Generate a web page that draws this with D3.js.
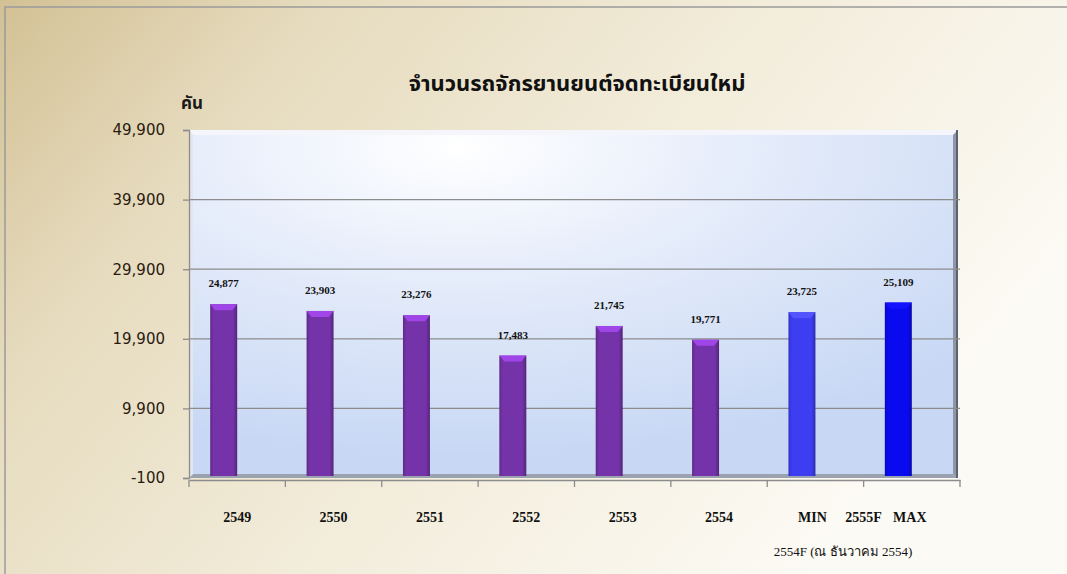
<!DOCTYPE html>
<html>
<head>
<meta charset="utf-8">
<script src="https://cdn.jsdelivr.net/npm/d3@7"></script>
<style>
  html, body { margin: 0; padding: 0; background: #fff; }
  svg { display: block; }
</style>
</head>
<body>
<div id="chart"></div>
<script>
// Chart data
const categories = ['2549', '2550', '2551', '2552', '2553', '2554', 'MIN', 'MAX'];
const values = [24877, 23903, 23276, 17483, 21745, 19771, 23725, 25109];
const barColors = ['#7433a8', '#7433a8', '#7433a8', '#7433a8', '#7433a8', '#7433a8', '#3d3df2', '#0a0af0'];
const yTicks = [-100, 9900, 19900, 29900, 39900, 49900];
const titleText = 'จำนวนรถจักรยานยนต์จดทะเบียนใหม่';
const unitText = 'คัน';
const groupLabel = '2555F';
const noteText = '2554F (ณ ธันวาคม 2554)';

const width = 1067, height = 574;
const plot = { left: 189, right: 960, top: 130, bottom: 478 };

const svg = d3.select('#chart').append('svg')
    .attr('width', width)
    .attr('height', height);

const defs = svg.append('defs');

// page background - tan on the left fading to off-white
const bg = defs.append('linearGradient').attr('id', 'bg')
    .attr('x1', 0).attr('y1', 0).attr('x2', 1).attr('y2', 0.45);
bg.append('stop').attr('offset', 0).attr('stop-color', '#d3c195');
bg.append('stop').attr('offset', 0.25).attr('stop-color', '#e6dbbe');
bg.append('stop').attr('offset', 0.6).attr('stop-color', '#f2ecda');
bg.append('stop').attr('offset', 1).attr('stop-color', '#fcfaf4');

// plot wall - white glare at top fading to pale blue
const wall = defs.append('radialGradient').attr('id', 'wall')
    .attr('cx', 0.35).attr('cy', 0.05).attr('r', 0.9);
wall.append('stop').attr('offset', 0).attr('stop-color', '#ffffff');
wall.append('stop').attr('offset', 0.35).attr('stop-color', '#e9effb');
wall.append('stop').attr('offset', 1).attr('stop-color', '#c7d7f4');

// bar shading
barColors.forEach((c, i) => {
    const g = defs.append('linearGradient').attr('id', 'bar' + i)
        .attr('x1', 0).attr('x2', 1).attr('y1', 0).attr('y2', 0);
    const base = d3.color(c);
    g.append('stop').attr('offset', 0).attr('stop-color', base.darker(0.6));
    g.append('stop').attr('offset', 0.12).attr('stop-color', base);
    g.append('stop').attr('offset', 0.85).attr('stop-color', base);
    g.append('stop').attr('offset', 1).attr('stop-color', base.darker(0.9));
});

// background + outer border
svg.append('rect').attr('width', width).attr('height', height).attr('fill', 'url(#bg)');
svg.append('rect')
    .attr('x', 5).attr('y', 7)
    .attr('width', width + 10).attr('height', height + 10)
    .attr('fill', 'none')
    .attr('stroke', '#9a9a9a')
    .attr('stroke-width', 1.5);

const x = d3.scaleBand()
    .domain(categories)
    .range([plot.left, plot.right])
    .paddingInner(0).paddingOuter(0);

const y = d3.scaleLinear()
    .domain([-100, 49900])
    .range([plot.bottom, plot.top]);

// plot wall with bevelled edges
svg.append('rect')
    .attr('x', plot.left).attr('y', plot.top)
    .attr('width', 958 - plot.left).attr('height', plot.bottom - plot.top)
    .attr('fill', 'url(#wall)');
svg.append('path')
    .attr('d', `M${plot.left},${plot.top} L958,${plot.top} L953,${plot.top + 5} L${plot.left + 4},${plot.top + 5} Z`)
    .attr('fill', '#f4f6fb');
svg.append('path')
    .attr('d', `M958,${plot.top} L958,${plot.bottom} L953,${plot.bottom - 4} L953,${plot.top + 5} Z`)
    .attr('fill', '#8e98a8');
svg.append('path')
    .attr('d', `M${plot.left},${plot.bottom} L958,${plot.bottom} L953,${plot.bottom - 4} L${plot.left + 4},${plot.bottom - 4} Z`)
    .attr('fill', '#9aa2b0');
svg.append('path')
    .attr('d', `M${plot.left},${plot.top} L${plot.left + 4},${plot.top + 5} L${plot.left + 4},${plot.bottom - 4} L${plot.left},${plot.bottom} Z`)
    .attr('fill', '#e2e6ee');
svg.append('line')
    .attr('x1', 957).attr('x2', 957)
    .attr('y1', plot.top).attr('y2', plot.bottom)
    .attr('stroke', '#5c6270').attr('stroke-width', 2);

// gridlines
svg.append('g')
    .selectAll('line')
    .data(yTicks.slice(1, -1))
    .join('line')
    .attr('x1', plot.left).attr('x2', plot.right)
    .attr('y1', d => y(d)).attr('y2', d => y(d))
    .attr('stroke', '#8c8c8c')
    .attr('stroke-width', 1.3);

// y axis (plain hyphen for the negative tick, like the original)
const yAxis = svg.append('g')
    .attr('transform', `translate(${plot.left},0)`)
    .call(d3.axisLeft(y).tickValues(yTicks).tickSize(6).tickPadding(18)
        .tickFormat(d => d3.format(',')(d).replace('\u2212', '-')));
yAxis.select('.domain').attr('stroke', '#8c8c8c').attr('stroke-width', 1.3);
yAxis.selectAll('.tick line').attr('stroke', '#8c8c8c').attr('stroke-width', 1.3);
yAxis.selectAll('.tick text')
    .style('font-family', '"DejaVu Sans", Tahoma, sans-serif')
    .style('font-size', '15px')
    .attr('fill', '#2a1a10');

// x axis
const xAxis = svg.append('g')
    .attr('transform', `translate(0,${plot.bottom + 2})`)
    .call(d3.axisBottom(x).tickValues([]).tickSizeOuter(0));
xAxis.select('.domain').attr('stroke', '#8c8c8c').attr('stroke-width', 1.3);
xAxis.selectAll('.xtick')
    .data(categories.concat(['__end']))
    .join('line')
    .attr('class', 'xtick')
    .attr('x1', (d, i) => i < categories.length ? x(d) : plot.right)
    .attr('x2', (d, i) => i < categories.length ? x(d) : plot.right)
    .attr('y1', 0).attr('y2', 7)
    .attr('stroke', '#8c8c8c').attr('stroke-width', 1.3);

// category labels
svg.append('g')
    .selectAll('text')
    .data(categories)
    .join('text')
    .attr('x', d => x(d) + x.bandwidth() / 2 + (d === 'MIN' ? -3 : d === 'MAX' ? -2 : 0))
    .attr('y', 522)
    .attr('text-anchor', 'middle')
    .style('font-family', '"Liberation Serif", "Times New Roman", serif')
    .style('font-size', '14px')
    .style('font-weight', 'bold')
    .attr('fill', '#111')
    .text(d => d);

svg.append('text')
    .attr('x', x('MAX'))
    .attr('y', 522)
    .attr('text-anchor', 'middle')
    .style('font-family', '"Liberation Serif", "Times New Roman", serif')
    .style('font-size', '14px')
    .style('font-weight', 'bold')
    .attr('fill', '#111')
    .text(groupLabel);

svg.append('text')
    .attr('x', 843)
    .attr('y', 556)
    .attr('text-anchor', 'middle')
    .style('font-family', '"Liberation Serif", "Times New Roman", serif')
    .style('font-size', '13px')
    .attr('fill', '#111')
    .text(noteText);

// bars
const bw = x.bandwidth();
const bars = svg.append('g')
    .selectAll('g')
    .data(values.map((v, i) => ({ cat: categories[i], value: v, i })))
    .join('g');

bars.append('rect')
    .attr('x', d => x(d.cat) + bw * 0.22)
    .attr('y', d => y(d.value))
    .attr('width', bw * 0.28)
    .attr('height', d => y(-100) - y(d.value) - 2)
    .attr('fill', d => `url(#bar${d.i})`);

// top highlight of each bar
bars.append('path')
    .attr('d', d => {
        const x0 = x(d.cat) + bw * 0.22, x1 = x0 + bw * 0.28, t = y(d.value);
        return `M${x0},${t} L${x1},${t} L${x1 - 5},${t + 6} L${x0 + 5},${t + 6} Z`;
    })
    .attr('fill', d => d3.color(barColors[d.i]).brighter(d.i === 7 ? 1.6 : 0.9));

// value labels
bars.append('text')
    .attr('x', d => x(d.cat) + bw * 0.36)
    .attr('y', d => y(d.value) - 17)
    .attr('text-anchor', 'middle')
    .style('font-family', '"Liberation Serif", "Times New Roman", serif')
    .style('font-size', '11px')
    .style('font-weight', 'bold')
    .attr('fill', '#111')
    .text(d => d3.format(',')(d.value));

// title and unit
svg.append('text')
    .attr('x', 577)
    .attr('y', 91)
    .attr('text-anchor', 'middle')
    .style('font-family', '"Noto Sans Thai", "Noto Serif Thai", "Liberation Serif", serif')
    .style('font-size', '22px')
    .style('font-weight', 'bold')
    .attr('fill', '#111')
    .text(titleText);

svg.append('text')
    .attr('x', 181)
    .attr('y', 109)
    .style('font-family', '"Noto Sans Thai", "Liberation Serif", serif')
    .style('font-size', '17px')
    .style('font-weight', 'bold')
    .attr('fill', '#1a1a1a')
    .text(unitText);
</script>
</body>
</html>
